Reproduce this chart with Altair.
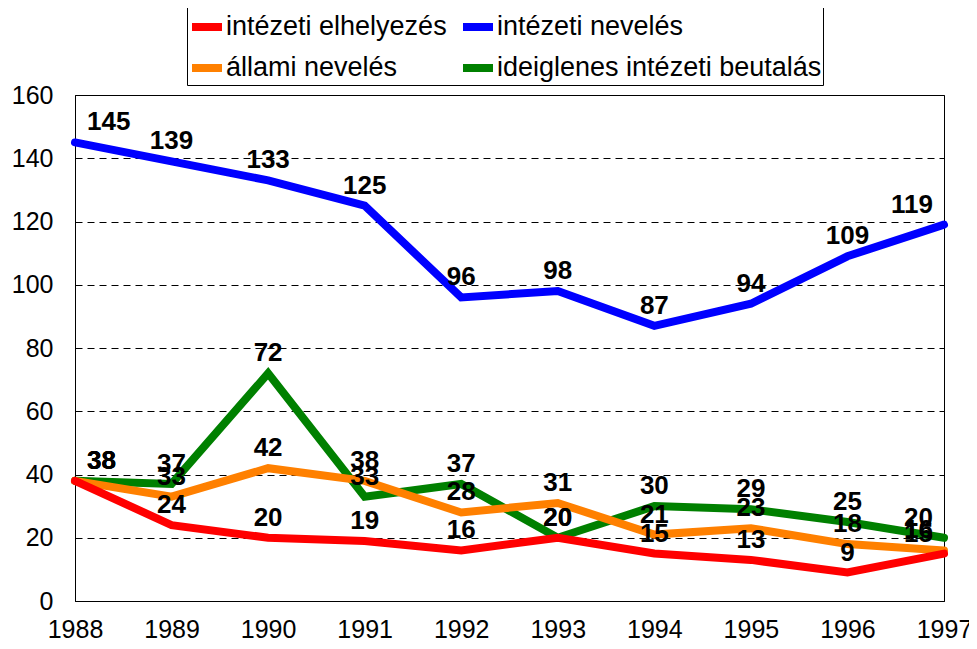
import altair as alt
import pandas as pd

years = [1988, 1989, 1990, 1991, 1992, 1993, 1994, 1995, 1996, 1997]
series_names = ["intézeti elhelyezés", "intézeti nevelés", "állami nevelés", "ideiglenes intézeti beutalás"]
series_colors = ["#ff0000", "#0000ff", "#ff8000", "#008000"]

intezeti_elhelyezes = [38, 24, 20, 19, 16, 20, 15, 13, 9, 15]
intezeti_neveles = [145, 139, 133, 125, 96, 98, 87, 94, 109, 119]
allami_neveles = [38, 33, 42, 38, 28, 31, 21, 23, 18, 16]
ideiglenes_beutalas = [38, 37, 72, 33, 37, 20, 30, 29, 25, 20]

all_values = [intezeti_elhelyezes, intezeti_neveles, allami_neveles, ideiglenes_beutalas]

# drawing order: green, orange, blue, red (red on top)
rows = []
for i in [3, 2, 1, 0]:
    for yr, v in zip(years, all_values[i]):
        rows.append({"year": yr, "value": v, "series": series_names[i]})
df = pd.DataFrame(rows)

# legend fills column by column: col 1 = red, orange; col 2 = blue, green
legend_order = [series_names[0], series_names[2], series_names[1], series_names[3]]
legend_colors = [series_colors[0], series_colors[2], series_colors[1], series_colors[3]]

FONT = "Liberation Sans"

x = alt.X(
    "year:Q",
    scale=alt.Scale(domain=[1988, 1997], nice=False, zero=False),
    axis=alt.Axis(values=years, format="d", title=None, ticks=False, grid=False,
                  labelFlush=False, labelOverlap=False, labelPadding=16,
                  domainColor="black", domainWidth=1),
)
y = alt.Y(
    "value:Q",
    scale=alt.Scale(domain=[0, 160], nice=False),
    axis=alt.Axis(values=list(range(0, 161, 20)), title=None, ticks=False,
                  labelPadding=22, grid=True, gridDash=[7, 5], gridColor="black",
                  gridWidth=1, domainColor="black", domainWidth=1),
)

color = alt.Color(
    "series:N",
    sort=legend_order,
    scale=alt.Scale(domain=legend_order, range=legend_colors),
    legend=alt.Legend(
        title=None, orient="none", legendX=112, legendY=-88, columns=2,
        symbolType="stroke", symbolStrokeWidth=8, symbolSize=900,
        labelFontSize=27, labelFont=FONT, labelColor="black", labelLimit=600,
        labelOffset=0, padding=1, rowPadding=6, columnPadding=0,
        strokeColor="black", fillColor="white", symbolOpacity=1,
    ),
)

lines = alt.Chart(df).mark_line(strokeWidth=8, strokeCap="round").encode(
    x=x, y=y, color=color
)

def label_layer(align, dx, cond):
    return (
        alt.Chart(df)
        .mark_text(font=FONT, fontSize=26, fontWeight="bold", color="black",
                   baseline="alphabetic", align=align, dx=dx, dy=-12)
        .encode(x=x, y=y, text="value:Q")
        .transform_filter(cond)
    )

mid = label_layer("center", 0, (alt.datum.year > 1988) & (alt.datum.year < 1997))
first = label_layer("left", 12, alt.datum.year == 1988)
last = label_layer("right", -11, alt.datum.year == 1997)

chart = (
    alt.layer(lines, mid, first, last)
    .properties(
        width=869, height=506,
        autosize=alt.AutoSizeParams(type="none"),
        padding={"left": 67, "top": 87, "right": 25, "bottom": 40},
    )
    .configure_view(stroke="black", strokeWidth=1)
    .configure_axis(labelFont=FONT, labelFontSize=25, labelColor="black")
)

chart.save("out.html", embed_options={"renderer": "svg", "actions": False})
